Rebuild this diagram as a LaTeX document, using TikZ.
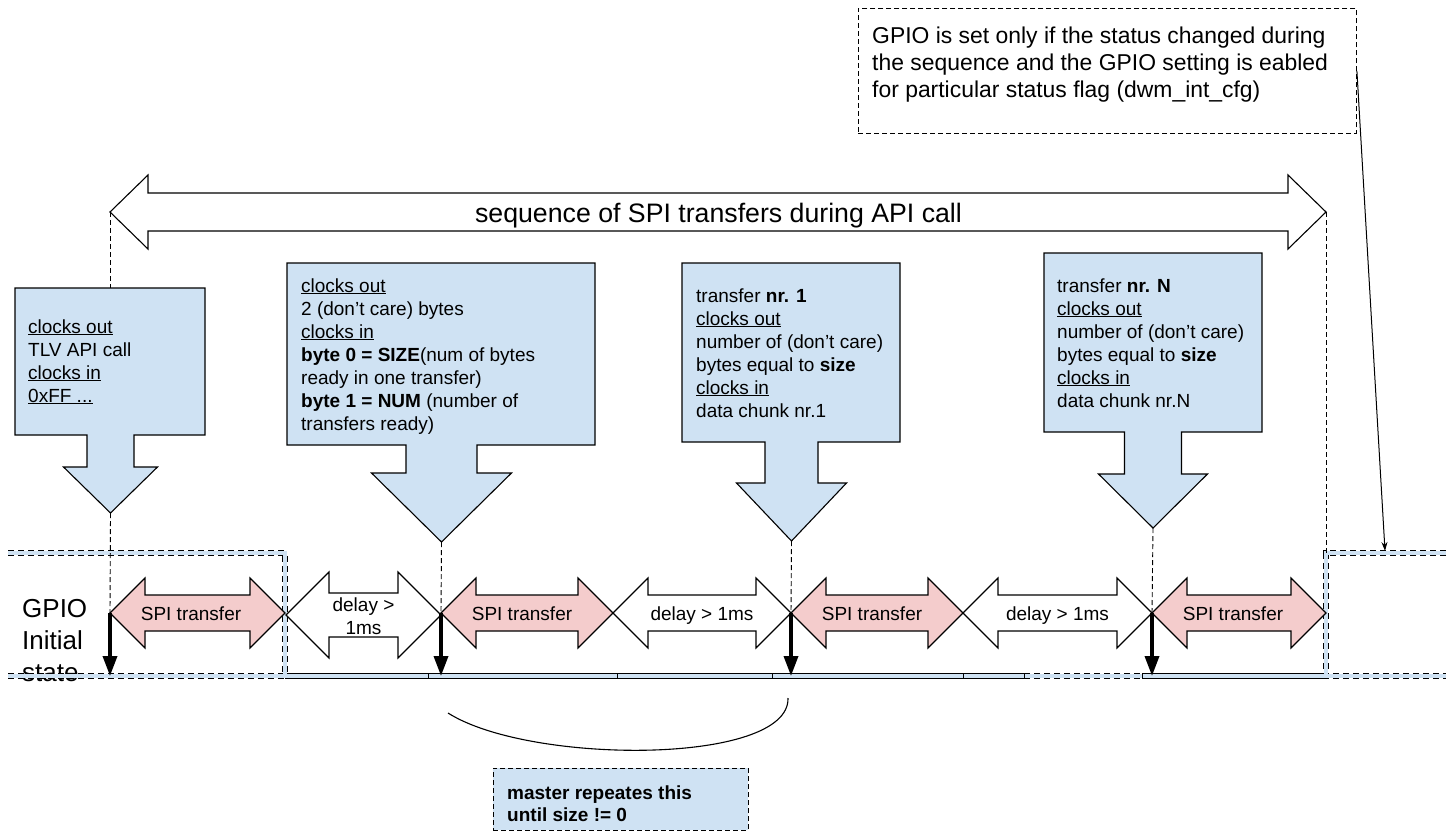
\documentclass[tikz,border=0pt]{standalone}
\usepackage{fontspec}
\setmainfont{Liberation Sans}
\usetikzlibrary{arrows.meta}
\definecolor{cblue}{HTML}{CFE2F3}
\definecolor{cpink}{HTML}{F4CCCC}
\newcommand{\hdarrow}[7]{\path[#7] (#1,#3) -- ({#1+#4},{#3-#5}) -- ({#1+#4},{#3-#6}) -- ({#2-#4},{#3-#6}) -- ({#2-#4},{#3-#5}) -- (#2,#3) -- ({#2-#4},{#3+#5}) -- ({#2-#4},{#3+#6}) -- ({#1+#4},{#3+#6}) -- ({#1+#4},{#3+#5}) -- cycle;}
\newcommand{\dncall}[9]{\path[shp, fill=cblue] (#1,#3) -- (#2,#3) -- (#2,#4) -- ({#5+#6},#4) -- ({#5+#6},#7) -- ({#5+#8},#7) -- (#5,#9) -- ({#5-#8},#7) -- ({#5-#6},#7) -- ({#5-#6},#4) -- (#1,#4) -- cycle;}
\newcommand{\tl}[1]{\begin{tabular}[t]{@{}l@{}}#1\end{tabular}}
\newcommand{\tc}[1]{\begin{tabular}[t]{@{}c@{}}#1\end{tabular}}
\begin{document}
\begin{tikzpicture}[x=1pt,y=-1pt, line join=miter,
  shp/.style={draw=black, line width=1.1pt},
  dsh/.style={draw=black, line width=0.9pt, dash pattern=on 5pt off 3pt},
  bigdown/.style={line width=3.5pt, -{Triangle[width=14pt,length=20pt]}},
  lbl/.style={inner sep=0pt, font=\fontsize{19}{23}\selectfont},
  gpiobase/.style={line width=5.6pt, draw=black},
  gpiofill/.style={line width=3.4pt, draw=cblue},
  gpiodash/.style={dash pattern=on 6pt off 4pt},
]
\useasboundingbox (0,0) rectangle (1456,838);

% named points
\coordinate (bigL) at (110,212);
\coordinate (bigR) at (1326,212);
\coordinate (c1top) at (110,288);
\coordinate (c1) at (110.5,513);
\coordinate (c2) at (441.5,542);
\coordinate (c3) at (791.5,541);
\coordinate (c4) at (1153,528);
\coordinate (a0) at (110,613);
\coordinate (a1) at (441,613);
\coordinate (a2) at (791,613);
\coordinate (a3) at (1152,613);
\coordinate (g0) at (110,676);
\coordinate (g1) at (441,676);
\coordinate (g2) at (791,676);
\coordinate (g3) at (1152,676);
\coordinate (hiL) at (1326,553);
\coordinate (hi) at (1385,551);

% note box
\node[dsh, anchor=north west, minimum width=498pt, minimum height=125pt, inner sep=0pt] (note) at (858,8) {};
\node[inner sep=0pt, anchor=base west, font=\fontsize{22.9}{27}\selectfont] (notetext) at (872,43)
  {\tl{GPIO is set only if the status changed during\\the sequence and the GPIO setting is eabled\\for particular status flag (dwm\_int\_cfg)}};

% big double arrow
\hdarrow{110}{1326}{212}{38}{37}{19}{shp, fill=white}
\node[inner sep=0pt, anchor=base, font=\fontsize{26.7}{32}\selectfont] (seq) at (718.5,222) {sequence of SPI transfers during API call};

% callouts
\dncall{15}{205}{288}{435}{110.5}{23.5}{467}{47}{513}
\dncall{287}{595}{263}{445}{441.5}{35.5}{473}{70}{542}
\dncall{682}{900}{263}{442}{791.5}{26.5}{483}{55}{541}
\dncall{1044}{1262}{253}{432}{1153}{28.5}{474}{54.5}{528}

\node[lbl, anchor=base west] (t1) at (28,333) {\tl{\underline{clocks out}\\TLV API call\\\underline{clocks in}\\\underline{0xFF ...}}};
\node[lbl, anchor=base west] (t2) at (301,292) {\tl{\underline{clocks out}\\2 (don’t care) bytes\\\underline{clocks in}\\\textbf{byte 0 = SIZE}(num of bytes\\ready in one transfer)\\\textbf{byte 1 = NUM} (number of\\transfers ready)}};
\node[lbl, anchor=base west] (t3) at (696,302) {\tl{transfer \textbf{nr. 1}\\\underline{clocks out}\\number of (don’t care)\\bytes equal to \textbf{size}\\\underline{clocks in}\\data chunk nr.1}};
\node[lbl, anchor=base west] (t4) at (1057,292) {\tl{transfer \textbf{nr. N}\\\underline{clocks out}\\number of (don’t care)\\bytes equal to \textbf{size}\\\underline{clocks in}\\data chunk nr.N}};

% GPIO label
\node[inner sep=0pt, anchor=base west, font=\fontsize{26}{32}\selectfont] (gpiolbl) at (22,617) {\tl{GPIO\\Initial\\state}};

% GPIO signal
\draw[gpiobase, gpiodash] (8,553) -- (285,553) -- (285,676);
\draw[gpiobase, gpiodash] (8,676) -- (285,676);
\draw[gpiobase, gpiodash] (1446,553) -- (1326,553) -- (1326,676) -- (1446,676);
\draw[gpiobase] (285,676) -- (1024,676);
\draw[gpiobase, gpiodash] (1024,676) -- (1142,676);
\draw[gpiobase] (1142,676) -- (1326,676);
\draw[gpiofill] (8,553) -- (285,553) -- (285,676);
\draw[gpiofill] (8,676) -- (1446,676);
\draw[gpiofill] (1446,553) -- (1326,553) -- (1326,676);
\foreach \x in {428,617,772,963,1024,1142} \draw[line width=0.8pt] (\x,673.3) -- (\x,678.7);

% transfer / delay arrows
\hdarrow{110}{285}{613}{35}{35}{18}{shp, fill=cpink}
\hdarrow{286}{441}{615}{43}{43}{22}{shp, fill=white}
\hdarrow{441}{613}{613}{35}{35}{18}{shp, fill=cpink}
\hdarrow{613}{791}{613}{35}{35}{18}{shp, fill=white}
\hdarrow{791}{963}{613}{35}{35}{18}{shp, fill=cpink}
\hdarrow{963}{1152}{613}{35}{35}{18}{shp, fill=white}
\hdarrow{1152}{1326}{613}{35}{35}{18}{shp, fill=cpink}

\node[lbl, anchor=base] (s1) at (191,620) {SPI transfer};
\node[lbl, anchor=base] (d1) at (363.5,611) {\tc{delay >\\1ms}};
\node[lbl, anchor=base] (s2) at (522,620) {SPI transfer};
\node[lbl, anchor=base] (d2) at (702,620) {delay > 1ms};
\node[lbl, anchor=base] (s3) at (872,620) {SPI transfer};
\node[lbl, anchor=base] (d3) at (1057.5,620) {delay > 1ms};
\node[lbl, anchor=base] (s4) at (1233,620) {SPI transfer};

% dashed guides
\draw[dsh] (bigL) -- (c1top);
\draw[dsh] (c1) -- (a0);
\draw[dsh] (c2) -- (a1);
\draw[dsh] (c3) -- (a2);
\draw[dsh] (c4) -- (a3);
\draw[dsh] (bigR) -- (hiL);

% GPIO pulses
\draw[bigdown] (a0) -- (g0);
\draw[bigdown] (a1) -- (g1);
\draw[bigdown] (a2) -- (g2);
\draw[bigdown] (a3) -- (g3);

% leader from note
\draw[line width=1pt, -{Stealth[length=9pt,width=6pt]}] (note.east) -- (hi);

% repeat bracket and box
\coordinate (brL) at (448,713);
\coordinate (brR) at (788,698);
\draw[line width=1.1pt] (brL) .. controls (530,765) and (790,765) .. (brR);
\node[dsh, fill=cblue, anchor=north west, minimum width=255pt, minimum height=62pt, inner sep=0pt] (rep) at (493,768) {};
\node[inner sep=0pt, anchor=base west, font=\fontsize{19}{22.5}\selectfont\bfseries] (reptext) at (507,799) {\tl{master repeates this\\until size != 0}};
\end{tikzpicture}
\end{document}
